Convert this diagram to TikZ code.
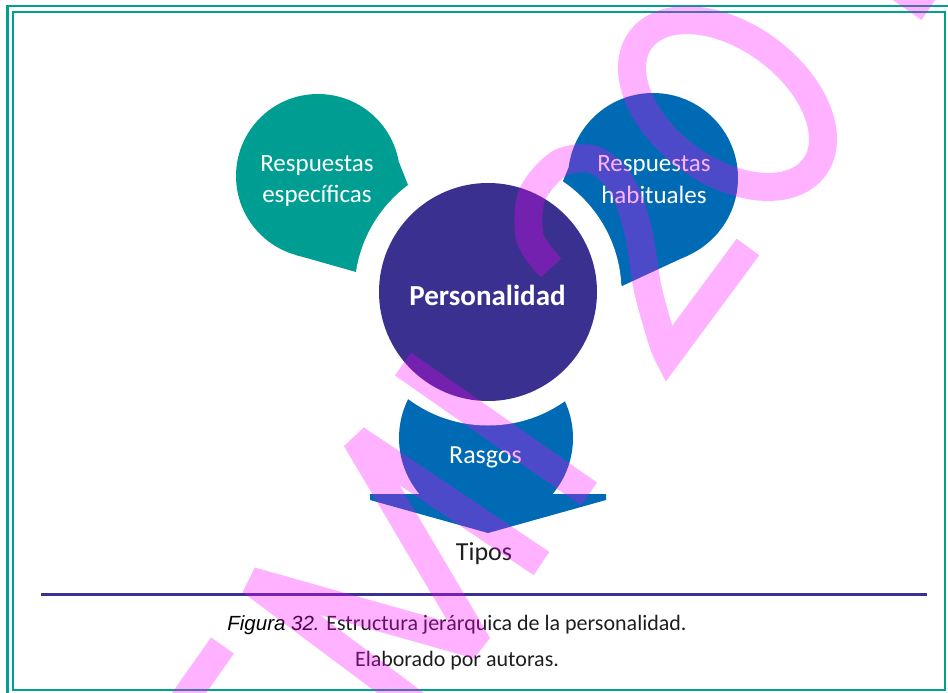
\documentclass[tikz,border=0pt]{standalone}
\usepackage{fontspec}
\setmainfont{Carlito}
\newfontfamily\capfont{Liberation Sans}
\definecolor{tealA}{RGB}{0,158,146}
\definecolor{blueA}{RGB}{0,107,180}
\definecolor{indigoA}{RGB}{57,48,143}
\definecolor{frameT}{RGB}{0,160,146}
\definecolor{lineP}{RGB}{58,50,145}
\definecolor{txtD}{RGB}{30,30,30}
\definecolor{wmPink}{RGB}{255,0,255}
\tikzset{
  lbl/.style={inner sep=0pt, anchor=base, text=white, font=\fontsize{25}{30}\selectfont},
  lbldark/.style={inner sep=0pt, anchor=base, text=txtD, font=\fontsize{26}{30}\selectfont},
  boldlbl/.style={inner sep=0pt, anchor=base, text=white, font=\fontsize{29}{34}\selectfont\bfseries},
  captxt/.style={inner sep=0pt, anchor=base, text=txtD, font=\fontsize{22}{26}\selectfont},
  framel/.style={draw=frameT, line width=2.2pt},
  wm/.style={draw=wmPink, draw opacity=0.3, line width=28pt, line cap=butt},
}
\begin{document}
\begin{tikzpicture}[x=1pt,y=-1pt]
\useasboundingbox (0,0) rectangle (948,693);
% frame
\draw[framel] (7.5,6) rectangle (980,720);
\draw[framel] (13,12) rectangle (945,690);

% satellite: Respuestas especificas (teal)
\fill[tealA] (318,176) circle (82);
\fill[tealA] (318,176) -- (295.7,254.9) -- (356,272) -- (412,195) -- (398.8,161.8) -- cycle;
% satellite: Respuestas habituales (blue)
\fill[blueA] (653,178) circle (85);
\fill[blueA] (653,178) -- (688.8,255) -- (622,286) -- (555,200) -- (568.6,167.6) -- cycle;
% satellite: Rasgos (blue) with arrow
\fill[blueA] (486,438) circle (87);
\fill[blueA] (370,494) -- (606,494) -- (606,500) -- (488,533) -- (370,500) -- cycle;
% white gap around centre
\fill[white] (488,292) circle (133.5);
% centre
\node[circle, fill=indigoA, minimum size=218pt, inner sep=0pt] (pers) at (488,292) {};

% texts
\node[lbl] (rs1) at (317,171) {Respuestas};
\node[lbl] (rs2) at (317,202) {específicas};
\node[lbl] (rh1) at (654,171) {Respuestas};
\node[lbl] (rh2) at (654,203) {habituales};
\node[boldlbl] (pl) at (487.5,305) {Personalidad};
\node[lbl, font=\fontsize{26}{30}\selectfont] (rg) at (485.5,463) {Rasgos};
\node[lbldark] (tp) at (484,560) {Tipos};

% rule and caption
\coordinate (ruleL) at (41,594);
\coordinate (ruleR) at (927,594);
\draw[lineP, line width=3pt] (ruleL) -- (ruleR);
\node[captxt] (cap1) at (457,630) {{\capfont\itshape\fontsize{20.5}{24}\selectfont\color{black}Figura 32.} Estructura jerárquica de la personalidad.};
\node[captxt] (cap2) at (457,666) {Elaborado por autoras.};

% watermark
\draw[wm, line join=bevel] (541.5,563.5) -- (356,439) -- (478,645) -- (251,581) -- (430,715);
\draw[wm] (403,364) -- (589,494);
\draw[wm] (222.5,645.5) -- (170,720);
\draw[wm] (929.5,8.5) -- (880,-26);
\draw[wm, line join=miter, miter limit=10] plot[smooth] coordinates {(551,268) (530,238) (532,195) (560,163) (595,160) (622,185) (638,230) (648,290) (662,340) (668,355)} -- (748,247);
\draw[wm] plot[smooth cycle, domain=0:355, samples=72] ({727.5+95.5*cos(\x)}, {103.5+35.6*cos(\x)+75.5*sin(\x)});
\end{tikzpicture}
\end{document}
